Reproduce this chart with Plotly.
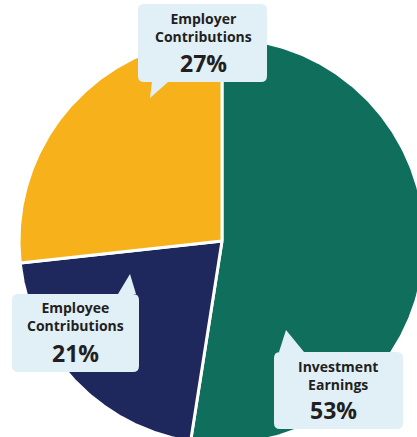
import numpy as np
import plotly.graph_objects as go

# ---- data ----
categories = ["Investment Earnings", "Employee Contributions", "Employer Contributions"]
label_lines = [["Investment", "Earnings"], ["Employee", "Contributions"], ["Employer", "Contributions"]]
values = [53, 21, 27]

# ---- style ----
colors = ["#106E5C", "#1F285C", "#F7B21B"]
W, H = 417, 437
cx, cy, R = 222, 241, 203
box_fill = "#E1EFF7"
text_color = "#231F20"
font_family = "Open Sans, Lato, sans-serif"

fig = go.Figure()

total = float(sum(values))
cum = 0.0
for v, col, name in zip(values, colors, categories):
    a0 = cum / total * 2 * np.pi
    a1 = (cum + v) / total * 2 * np.pi
    t = np.linspace(a0, a1, 200)
    xs = np.concatenate([[cx], cx + R * np.sin(t), [cx]])
    ys = np.concatenate([[cy], cy - R * np.cos(t), [cy]])
    fig.add_trace(go.Scatter(x=xs, y=ys, mode="lines", fill="toself", fillcolor=col,
                             line=dict(color="white", width=3), name=name,
                             hoverinfo="skip", showlegend=False))
    cum += v

callouts = {
    "Employer Contributions": dict(box=(138, 4, 267, 82), ptr=(152, 168, 82, 150, 98),
                                   lab=(203, 27), pct=(203, 63)),
    "Employee Contributions": dict(box=(12, 294, 139, 372), ptr=(118, 136, 294, 130, 274),
                                   lab=(75, 316), pct=(75, 353)),
    "Investment Earnings": dict(box=(274, 352, 403, 429), ptr=(279, 304, 352, 286, 330),
                                lab=(338, 375), pct=(333, 410)),
}

def rrect(x0, y0, x1, y1, r=6):
    return (f"M{x0+r},{y0} L{x1-r},{y0} Q{x1},{y0} {x1},{y0+r} L{x1},{y1-r} "
            f"Q{x1},{y1} {x1-r},{y1} L{x0+r},{y1} Q{x0},{y1} {x0},{y1-r} "
            f"L{x0},{y0+r} Q{x0},{y0} {x0+r},{y0} Z")

shapes = []
annotations = []
for name, lines, v in zip(categories, label_lines, values):
    c = callouts[name]
    x0, y0, x1, y1 = c["box"]
    shapes.append(dict(type="path", path=rrect(x0, y0, x1, y1), xref="x", yref="y",
                       fillcolor=box_fill, line=dict(width=0), layer="above"))
    bx0, bx1, by, tx, ty = c["ptr"]
    shapes.append(dict(type="path", path=f"M{bx0},{by} L{tx},{ty} L{bx1},{by} Z", xref="x", yref="y",
                       fillcolor=box_fill, line=dict(width=0), layer="above"))
    annotations.append(dict(x=c["lab"][0], y=c["lab"][1], xref="x", yref="y",
                            text="<b>" + "<br>".join(lines) + "</b>", showarrow=False,
                            font=dict(size=14, color=text_color, family=font_family),
                            xanchor="center", yanchor="middle"))
    annotations.append(dict(x=c["pct"][0], y=c["pct"][1], xref="x", yref="y",
                            text=f"<b>{v}%</b>", showarrow=False,
                            font=dict(size=23, color=text_color, family=font_family),
                            xanchor="center", yanchor="middle"))

fig.update_layout(
    width=W, height=H,
    margin=dict(l=0, r=0, t=0, b=0),
    paper_bgcolor="white", plot_bgcolor="white",
    xaxis=dict(range=[0, W], visible=False, fixedrange=True),
    yaxis=dict(range=[H, 0], visible=False, fixedrange=True),
    shapes=shapes, annotations=annotations,
    showlegend=False,
)

fig.write_html("out.html", config={"displayModeBar": False},
               post_script="document.body.style.margin='0';document.body.style.overflow='hidden';")
